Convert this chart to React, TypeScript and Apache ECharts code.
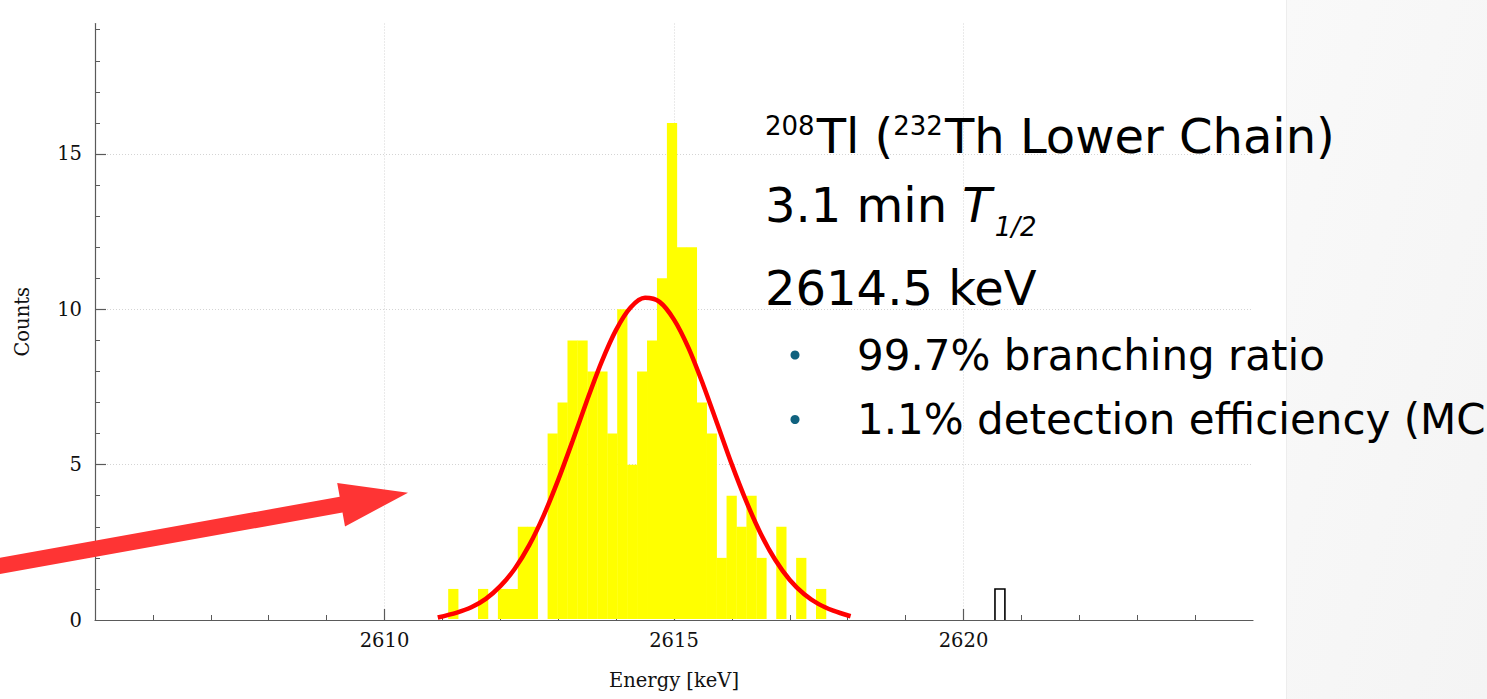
import React, { useEffect, useRef } from "react";
import * as echarts from "echarts";

// ---------------- data ----------------
const xMin = 2605;
const xMax = 2625;
const yMax = 19.2;
const xTickLabels = [2610, 2615, 2620];
const yTickLabels = [0, 5, 10, 15];
const yGridValues = [5, 10, 15];

// histogram binning (keV)
const binStart = 2611.1;
const binWidth = 0.1717;
// counts per bin, filled (yellow) part of the spectrum
const filledCounts = [
  1, 0, 0, 1, 0, 1, 1, 3, 3, 0,
  6, 7, 9, 9, 8, 8, 6, 10, 5, 8,
  9, 11, 16, 12, 12, 7, 6, 2, 4, 3,
  4, 2, 0, 3, 0, 2, 0, 1,
];
// isolated event drawn as an open bin
const openBinIndex = [55];
const openBinCounts = [1];

// Gaussian fit
const fitEnergy = [
  2610.92, 2611.25, 2611.5, 2611.75, 2612.0, 2612.25, 2612.5, 2612.75, 2613.0, 2613.25,
  2613.5, 2613.75, 2614.0, 2614.25, 2614.5, 2614.75, 2615.0, 2615.25, 2615.5, 2615.75,
  2616.0, 2616.25, 2616.5, 2616.75, 2617.0, 2617.25, 2617.5, 2617.75, 2618.05,
];
const fitCounts = [
  0.08, 0.24, 0.41, 0.68, 1.09, 1.65, 2.41, 3.37, 4.51, 5.77,
  7.08, 8.31, 9.34, 10.06, 10.37, 10.24, 9.67, 8.76, 7.59, 6.3,
  5.0, 3.81, 2.77, 1.93, 1.29, 0.83, 0.51, 0.3, 0.12,
];

// annotation text
const line1 = [
  { t: "208", sup: true },
  { t: "Tl (", sup: false },
  { t: "232", sup: true },
  { t: "Th Lower Chain)", sup: false },
];
const line2Main = "3.1 min ";
const line2Italic = "T";
const line2Sub = "1/2";
const line3 = "2614.5 keV";
const bullets = ["99.7% branching ratio", "1.1% detection efficiency (MC)"];

// ---------------- helpers ----------------
const SANS = '"DejaVu Sans"';
const SERIF = '"DejaVu Serif"';
let measureCtx: CanvasRenderingContext2D | null = null;
function measure(text: string, size: number, style = "normal"): number {
  if (!measureCtx) {
    const c = document.createElement("canvas");
    measureCtx = c.getContext("2d");
  }
  if (!measureCtx) return text.length * size * 0.6;
  measureCtx.font = `${style} ${size}px ${SANS}`;
  return measureCtx.measureText(text).width;
}

export default function App() {
  const ref = useRef<HTMLDivElement>(null);

  useEffect(() => {
    if (!ref.current) return;
    document.body.style.margin = "0";
    const chart = echarts.init(ref.current, null, { renderer: "svg" });

    const filledData = filledCounts.map((c, i) => [
      binStart + i * binWidth,
      binStart + (i + 1) * binWidth,
      c,
    ]);
    const openData = openBinIndex.map((k, i) => [
      binStart + k * binWidth,
      binStart + (k + 1) * binWidth,
      openBinCounts[i],
    ]);
    const fitData = fitEnergy.map((e, i) => [e, fitCounts[i]]);

    // ---- annotation layout ----
    const MAIN = 48;
    const SUP = 26;
    const SMALL = 42;
    const graphics: any[] = [];

    // grey slide panel on the right
    graphics.push({
      type: "rect",
      z: 1,
      shape: { x: 1286, y: 0, width: 201, height: 699 },
      style: {
        fill: new echarts.graphic.LinearGradient(0, 0, 1, 1, [
          { offset: 0, color: "#f9f9f9" },
          { offset: 1, color: "#f4f4f4" },
        ]),
      },
    });
    graphics.push({
      type: "line",
      z: 1,
      shape: { x1: 1286.5, y1: 0, x2: 1286.5, y2: 699 },
      style: { stroke: "#ededed", lineWidth: 1 },
    });

    // line 1
    let x = 765;
    line1.forEach((p) => {
      const size = p.sup ? SUP : MAIN;
      graphics.push({
        type: "text",
        z: 20,
        x,
        y: p.sup ? 126 : 136,
        style: {
          text: p.t,
          fontFamily: SANS,
          fontSize: size,
          fill: "#000",
          verticalAlign: "middle",
          align: "left",
        },
      });
      x += measure(p.t, size) + (p.sup ? 2 : 0);
    });

    // line 2
    x = 765;
    graphics.push({
      type: "text",
      z: 20,
      x,
      y: 205,
      style: { text: line2Main, fontFamily: SANS, fontSize: MAIN, fill: "#000", verticalAlign: "middle" },
    });
    x += measure(line2Main, MAIN);
    graphics.push({
      type: "text",
      z: 20,
      x,
      y: 205,
      style: {
        text: line2Italic,
        fontFamily: SANS,
        fontStyle: "italic",
        fontSize: MAIN,
        fill: "#000",
        verticalAlign: "middle",
      },
    });
    x += measure(line2Italic, MAIN, "italic") + 3;
    graphics.push({
      type: "text",
      z: 20,
      x,
      y: 227,
      style: {
        text: line2Sub,
        fontFamily: SANS,
        fontStyle: "italic",
        fontSize: SUP,
        fill: "#000",
        verticalAlign: "middle",
      },
    });

    // line 3
    graphics.push({
      type: "text",
      z: 20,
      x: 765,
      y: 288,
      style: { text: line3, fontFamily: SANS, fontSize: MAIN, fill: "#000", verticalAlign: "middle" },
    });

    // bullets
    const bulletY = [355, 419.5];
    bullets.forEach((b, i) => {
      graphics.push({
        type: "circle",
        z: 20,
        shape: { cx: 795, cy: bulletY[i], r: 4.5 },
        style: { fill: "#10627f" },
      });
      graphics.push({
        type: "text",
        z: 20,
        x: 857,
        y: bulletY[i],
        style: { text: b, fontFamily: SANS, fontSize: SMALL, fill: "#000", verticalAlign: "middle" },
      });
    });

    // red arrow
    graphics.push({
      type: "polygon",
      z: 30,
      shape: {
        points: [
          [-6.4, 558.8],
          [339.7, 496.8],
          [337.2, 483.0],
          [408, 492.7],
          [345.0, 526.4],
          [342.5, 512.6],
          [-3.6, 574.6],
        ],
      },
      style: { fill: "#fe3434" },
    });

    const axisColor = "#5a5a5a";
    const labelStyle = { fontFamily: SERIF, fontSize: 19.5, color: "#111" };
    const plain = (v: number) => String(v);

    const option: any = {
      animation: false,
      backgroundColor: "#ffffff",
      grid: { left: 95, right: 234, top: 23.5, bottom: 79, containLabel: false },
      xAxis: {
        type: "value",
        min: xMin,
        max: xMax,
        interval: 5,
        name: "Energy [keV]",
        nameLocation: "middle",
        nameGap: 50,
        nameTextStyle: labelStyle,
        axisLine: { show: true, lineStyle: { color: axisColor, width: 1.2 } },
        axisTick: {
          show: true,
          inside: true,
          length: 11,
          customValues: xTickLabels,
          lineStyle: { color: axisColor, width: 1.2 },
        },
        minorTick: { show: true, splitNumber: 5, length: 5, lineStyle: { color: axisColor, width: 1 } },
        axisLabel: { ...labelStyle, margin: 10, customValues: xTickLabels, formatter: plain },
        splitLine: { show: true, lineStyle: { color: "#d4d4d4", type: [1, 2], width: 1 } },
      },
      yAxis: {
        type: "value",
        min: 0,
        max: yMax,
        interval: 5,
        name: "Counts",
        nameLocation: "middle",
        nameGap: 63,
        nameTextStyle: labelStyle,
        axisLine: { show: true, lineStyle: { color: axisColor, width: 1.2 } },
        axisTick: {
          show: true,
          inside: true,
          length: 11,
          customValues: yGridValues,
          lineStyle: { color: axisColor, width: 1.2 },
        },
        minorTick: { show: true, splitNumber: 5, length: 5, lineStyle: { color: axisColor, width: 1 } },
        axisLabel: { ...labelStyle, margin: 13, customValues: yTickLabels, formatter: plain },
        splitLine: { show: true, lineStyle: { color: "#d4d4d4", type: [1, 2], width: 1 } },
      },
      series: [
        {
          type: "custom",
          name: "spectrum",
          z: 2,
          encode: { x: [0, 1], y: 2 },
          data: filledData,
          renderItem: (params: any, api: any) => {
            const c = api.value(2);
            if (!c) return null;
            const p0 = api.coord([api.value(0), c]);
            const p1 = api.coord([api.value(1), 0]);
            return {
              type: "rect",
              shape: { x: p0[0], y: p0[1], width: p1[0] - p0[0] + 0.3, height: p1[1] - p0[1] - 1 },
              style: { fill: "#ffff00" },
            };
          },
        },
        {
          type: "custom",
          name: "open bin",
          z: 3,
          encode: { x: [0, 1], y: 2 },
          data: openData,
          renderItem: (params: any, api: any) => {
            const c = api.value(2);
            const p0 = api.coord([api.value(0), c]);
            const p1 = api.coord([api.value(1), 0]);
            return {
              type: "polyline",
              shape: {
                points: [
                  [p0[0], p1[1]],
                  [p0[0], p0[1]],
                  [p1[0], p0[1]],
                  [p1[0], p1[1]],
                ],
              },
              style: { fill: "none", stroke: "#000", lineWidth: 1.6 },
            };
          },
        },
        {
          type: "line",
          name: "fit",
          z: 4,
          data: fitData,
          showSymbol: false,
          smooth: 0.3,
          lineStyle: { color: "#ff0000", width: 4.5 },
        },
      ],
      graphic: graphics,
    };

    chart.setOption(option);
    return () => chart.dispose();
  }, []);

  return (
    <div
      ref={ref}
      style={{ position: "fixed", left: 0, top: 0, width: 1487, height: 699, background: "#fff" }}
    />
  );
}
